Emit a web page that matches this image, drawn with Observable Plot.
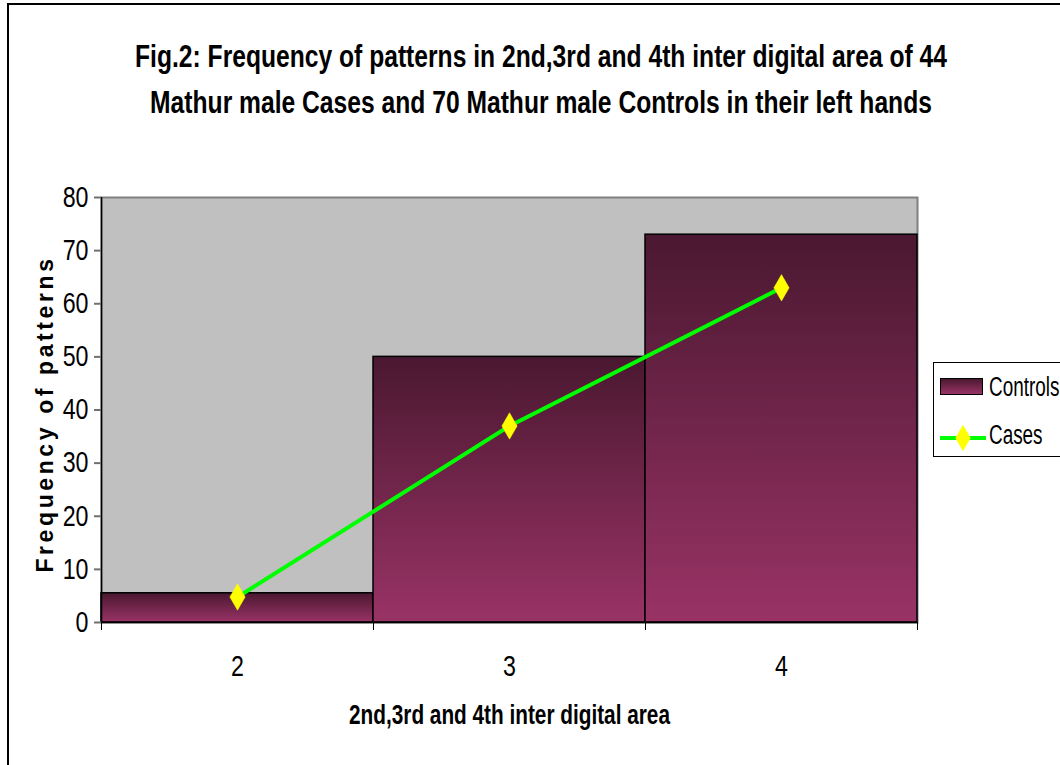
<!DOCTYPE html>
<html>
<head>
<meta charset="utf-8">
<script src="https://cdn.jsdelivr.net/npm/d3@7"></script>
<script src="https://cdn.jsdelivr.net/npm/@observablehq/plot@0.6"></script>
<style>
  body { margin: 0; background: #fff; }
  #chart { position: relative; width: 1060px; height: 765px; overflow: hidden;
           font-family: "Liberation Sans", Arial, sans-serif; color: #000; }
  #border { position: absolute; left: 7px; top: 3px; width: 1200px; height: 900px;
            border: 2px solid #000; box-sizing: border-box; }
  #plot { position: absolute; left: 0; top: 0; }
  #title { position: absolute; left: 0; top: 33px; width: 1082px; text-align: center;
           font-weight: bold; font-size: 32px; line-height: 46px; white-space: nowrap;
           transform: scaleX(0.77); transform-origin: 541px 0; }
  #legend { position: absolute; left: 933px; top: 362px; width: 150px; height: 95px;
            border: 1px solid #000; background: #fff; box-sizing: border-box; }
  #legend .swatch { position: absolute; left: 6px; top: 15px; width: 43px; height: 17px;
            border: 1.5px solid #000; box-sizing: border-box;
            background: linear-gradient(#4a1830, #993366); }
  #legend .lab { position: absolute; left: 55px; font-size: 27px; line-height: 30px;
            white-space: nowrap; transform: scaleX(0.7); transform-origin: 0 50%; }
  #legend svg { position: absolute; left: 5px; top: 61px; }
</style>
</head>
<body>
<div id="chart">
  <div id="border"></div>
  <div id="plot"></div>
  <div id="title">Fig.2: Frequency of patterns in 2nd,3rd and 4th inter digital area of 44<br>Mathur male Cases and 70 Mathur male Controls in their left hands</div>
  <div id="legend"></div>
</div>
<script>
// Inter digital areas (left hand) and pattern frequencies
const areas = [2, 3, 4];
const controls = [5.5, 50, 73];
const cases = [4.8, 37, 63];
const yTicks = [0, 10, 20, 30, 40, 50, 60, 70, 80];
const seriesNames = ["Controls", "Cases"];
const xTitle = "2nd,3rd and 4th inter digital area";
const yTitle = "Frequency of patterns";

const rows = areas.map((a, i) => ({area: a, controls: controls[i], cases: cases[i]}));
const lo = d3.min(areas) - 0.5, hi = d3.max(areas) + 0.5;
const edges = d3.range(lo, hi + 0.01, 1);

const font = '"Liberation Sans", Arial, sans-serif';
const narrow = 0.8; // horizontal squeeze for the condensed labels
const markerR = 8;

const chart = Plot.plot({
  width: 1060,
  height: 765,
  marginLeft: 101,
  marginRight: 143,
  marginTop: 197,
  marginBottom: 143,
  style: {fontFamily: font, fontSize: "29px", background: "transparent", color: "#000"},
  x: {domain: [lo, hi]},
  y: {domain: [0, 80]},
  marks: [
    Plot.frame({fill: "#c0c0c0", stroke: "#808080", strokeWidth: 2}),
    Plot.rectY(rows, {x1: d => d.area - 0.5, x2: d => d.area + 0.5, y: "controls",
      fill: "url(#barFill)", stroke: "#000", strokeWidth: 1.5}),
    Plot.ruleX([lo], {stroke: "#000", strokeWidth: 1.5}),
    Plot.ruleY([0], {stroke: "#000", strokeWidth: 1.5}),
    Plot.axisY({ticks: yTicks, tickSize: 7, tickPadding: 6, stroke: "#707070", strokeWidth: 2,
      fill: "#000", fontSize: 29, label: null}),
    Plot.axisX({ticks: edges, tickSize: 8, tickFormat: () => "", stroke: "#000", label: null}),
    Plot.axisX({ticks: areas, tickSize: 0, tickPadding: 33, tickFormat: d => String(d),
      fontSize: 29, label: null}),
    Plot.line(rows, {x: "area", y: "cases", stroke: "#00ff00", strokeWidth: 4}),
    Plot.dot(rows, {x: "area", y: "cases", symbol: "diamond", r: markerR, fill: "#ffff00",
      stroke: "#ffff00", strokeWidth: 0.5}),
    Plot.text([xTitle], {frameAnchor: "bottom", dy: 101, fontWeight: "bold", fontSize: 27,
      fontFamily: font, fill: "#000"}),
    Plot.text([yTitle], {frameAnchor: "left", textAnchor: "middle", dx: -56, dy: 4, rotate: -90,
      fontWeight: "bold", fontSize: 23, fontFamily: font, fill: "#000"})
  ]
});

const svg = d3.select(chart);

// vertical shading of the bars
const grad = svg.insert("defs", ":first-child").append("linearGradient")
  .attr("id", "barFill").attr("x1", 0).attr("y1", 0).attr("x2", 0).attr("y2", 1);
grad.append("stop").attr("offset", "0%").attr("stop-color", "#4a1830");
grad.append("stop").attr("offset", "100%").attr("stop-color", "#993366");

// condensed tick labels and x title; spaced-out y title
svg.selectAll("text").each(function () {
  if (this.textContent === yTitle) {
    this.setAttribute("letter-spacing", "3.6px");
    return;
  }
  const k = this.textContent === xTitle ? 0.77 : narrow;
  const t = this.getAttribute("transform");
  if (t) {
    this.setAttribute("transform", t + ` scale(${k},1)`);
  } else {
    const x = +this.getAttribute("x") || 0;
    this.setAttribute("transform", `translate(${x},0) scale(${k},1) translate(${-x},0)`);
  }
});

document.getElementById("plot").appendChild(chart);

// legend
const legend = d3.select("#legend");
legend.append("div").attr("class", "swatch");
legend.append("div").attr("class", "lab").style("top", "9px").text(seriesNames[0]);
const ls = legend.append("svg").attr("width", 48).attr("height", 28);
ls.append("line").attr("x1", 1).attr("x2", 47).attr("y1", 14).attr("y2", 14)
  .attr("stroke", "#00ff00").attr("stroke-width", 4);
ls.append("path").attr("d", d3.symbol(d3.symbolDiamond, markerR * markerR * Math.PI)())
  .attr("transform", "translate(24,14)").attr("fill", "#ffff00");
legend.append("div").attr("class", "lab").style("top", "57px").text(seriesNames[1]);
</script>
</body>
</html>
